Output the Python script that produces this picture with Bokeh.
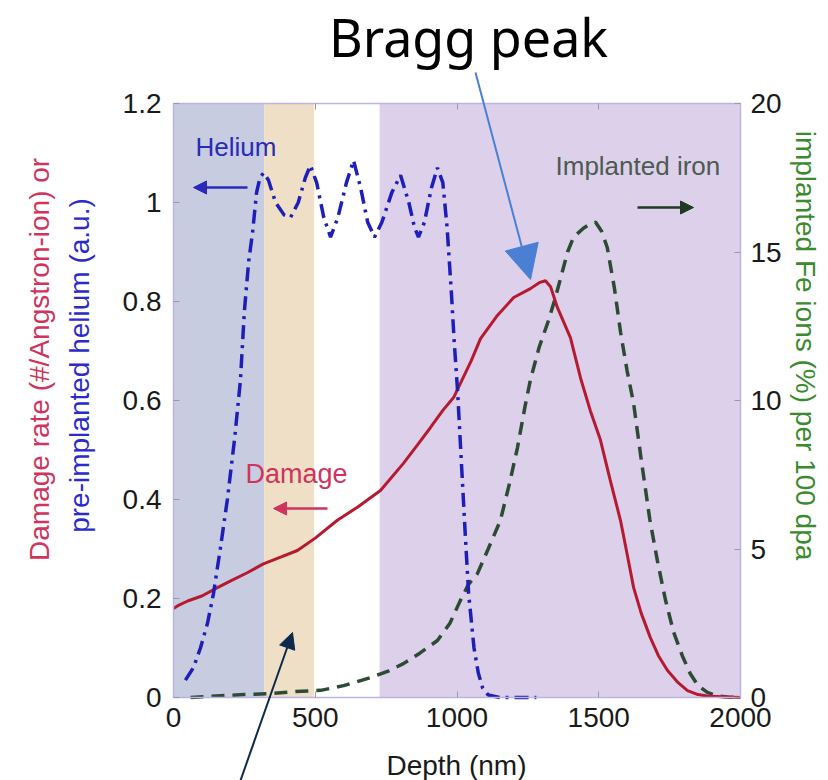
from math import pi
from bokeh.plotting import figure
from bokeh.models import Range1d, LinearAxis, FixedTicker, Label, Arrow, NormalHead
from bokeh.embed import file_html
from bokeh.resources import INLINE

# ---------------- data ----------------
band_left = [0, 320, 497, 727]
band_right = [320, 497, 727, 2000]
band_colors = ["#c8cce1", "#efdfc6", "#ffffff", "#dcd0ea"]

he_depth = [42, 70, 95, 120, 141, 165, 190, 215, 236, 250, 265, 279, 293, 305, 318,
            335, 360, 390, 413, 440, 465, 483, 505, 530, 554, 580, 610, 635, 660, 685,
            709, 735, 770, 801, 830, 850, 864, 885, 910, 931, 950, 965, 980, 990, 1002,
            1015, 1030, 1041, 1060, 1075, 1090, 1110, 1150, 1280]
helium = [0.035, 0.06, 0.10, 0.15, 0.21, 0.30, 0.40, 0.52, 0.64, 0.78, 0.88, 0.94, 1.02, 1.05, 1.06,
          1.045, 1.00, 0.975, 0.97, 1.00, 1.05, 1.075, 1.04, 0.97, 0.93, 0.97, 1.04, 1.085, 1.03, 0.96,
          0.93, 0.96, 1.02, 1.055, 1.00, 0.95, 0.93, 0.96, 1.03, 1.07, 1.04, 0.95, 0.82, 0.72, 0.62,
          0.48, 0.32, 0.21, 0.10, 0.05, 0.02, 0.005, 0.0, 0.0]

dmg_depth = [0, 14, 50, 100, 155, 200, 260, 317, 380, 437, 500, 578, 650, 730, 811,
             860, 906, 950, 988, 1050, 1083, 1140, 1200, 1259, 1290, 1312, 1330, 1354, 1400, 1436,
             1470, 1506, 1540, 1577, 1600, 1623, 1650, 1682, 1710, 1742, 1780, 1813, 1850, 1883, 1950, 2000]
damage = [0.18, 0.185, 0.195, 0.205, 0.222, 0.235, 0.252, 0.27, 0.284, 0.297, 0.322, 0.358, 0.385, 0.418, 0.473,
          0.51, 0.545, 0.58, 0.606, 0.68, 0.725, 0.77, 0.808, 0.826, 0.838, 0.842, 0.83, 0.788, 0.727, 0.645,
          0.58, 0.52, 0.44, 0.357, 0.29, 0.222, 0.17, 0.121, 0.085, 0.055, 0.03, 0.014, 0.006, 0.003, 0.001, 0.0]

fe_depth = [60, 150, 250, 342, 430, 519, 600, 695, 760, 811, 870, 931, 975, 1012, 1040,
            1072, 1110, 1153, 1185, 1213, 1240, 1259, 1290, 1323, 1345, 1365, 1390, 1411, 1446, 1470,
            1489, 1510, 1530, 1555, 1577, 1600, 1623, 1650, 1680, 1707, 1735, 1764, 1795, 1823, 1850,
            1883, 1920, 1960, 2000]
iron = [0.0, 0.05, 0.1, 0.13, 0.2, 0.24, 0.4, 0.67, 0.9, 1.14, 1.5, 1.92, 2.5, 3.27, 3.8,
        4.17, 5.0, 5.96, 7.2, 8.4, 9.8, 10.7, 11.8, 12.7, 13.4, 14.1, 15.0, 15.5, 15.8, 15.95,
        16.0, 15.7, 15.15, 13.8, 12.3, 11.0, 9.9, 8.0, 6.0, 4.6, 3.3, 2.2, 1.4, 0.8, 0.4,
        0.17, 0.05, 0.01, 0.0]

x_ticks = [0, 500, 1000, 1500, 2000]
x_labels = ["0", "500", "1000", "1500", "2000"]
left_ticks = [0, 0.2, 0.4, 0.6, 0.8, 1, 1.2]
left_labels = ["0", "0.2", "0.4", "0.6", "0.8", "1", "1.2"]
right_ticks = [0, 5, 10, 15, 20]
right_labels = ["0", "5", "10", "15", "20"]

# ---------------- layout ----------------
# The plotting area covers the whole canvas; the data box (0..2000, 0..1.2)
# sits at pixels FL..FR / FT..FB so that arrows and texts may leave it.
W, H = 828, 780
FL, FR, FT, FB = 173, 740, 103, 697
XMAX, YMAX, Y2MAX = 2000, 1.2, 20


def dx(px):
    return (px - FL) * XMAX / (FR - FL)


def dy(py):
    return (FB - py) * YMAX / (FB - FT)


p = figure(width=W, height=H, output_backend="svg", toolbar_location=None,
           x_range=Range1d(dx(0), dx(W)), y_range=Range1d(dy(H), dy(0)),
           x_axis_location=None, y_axis_location=None,
           min_border=0)
p.extra_y_ranges = {"fe": Range1d(dy(H) * Y2MAX / YMAX, dy(0) * Y2MAX / YMAX)}
p.xgrid.visible = False
p.ygrid.visible = False
p.outline_line_color = None
p.background_fill_color = "white"
p.border_fill_color = "white"

FONT = "Liberation Sans"
AX_LINE = "#bdb4e2"
TICK = "#9a9a9a"


def style_axis(ax, standoff):
    ax.axis_line_color = AX_LINE
    ax.axis_line_width = 1.5
    ax.major_tick_in = 6
    ax.major_tick_out = 0
    ax.major_tick_line_color = TICK
    ax.minor_tick_line_color = None
    ax.major_label_standoff = standoff
    ax.major_label_text_font = FONT
    ax.major_label_text_font_size = "28px"
    ax.major_label_text_color = "#1a1a1a"


left = LinearAxis(ticker=FixedTicker(ticks=left_ticks), fixed_location=0, bounds=(0, YMAX),
                  major_label_overrides=dict(zip(left_ticks, left_labels)))
style_axis(left, 12)
p.add_layout(left, "left")

right = LinearAxis(y_range_name="fe", ticker=FixedTicker(ticks=right_ticks),
                   fixed_location=XMAX, bounds=(0, Y2MAX),
                   major_label_overrides=dict(zip(right_ticks, right_labels)))
style_axis(right, 10)
p.add_layout(right, "right")

bottom = LinearAxis(ticker=FixedTicker(ticks=x_ticks), fixed_location=0, bounds=(0, XMAX),
                    major_label_overrides=dict(zip(x_ticks, x_labels)))
style_axis(bottom, 10)
p.add_layout(bottom, "below")

top = LinearAxis(ticker=FixedTicker(ticks=x_ticks), fixed_location=YMAX, bounds=(0, XMAX),
                 major_label_overrides={t: "" for t in x_ticks})
style_axis(top, 0)
p.add_layout(top, "above")

# ---------------- bands & curves ----------------
p.quad(left=band_left, right=band_right, bottom=0, top=YMAX,
       fill_color=band_colors, line_color=None, level="underlay")

p.line(fe_depth, iron, y_range_name="fe", line_color="#2d4a34", line_width=3.5,
       line_dash="13 8")
p.line(dmg_depth, damage, line_color="#b51a30", line_width=3)
p.line(he_depth, helium, line_color="#1e1eb8", line_width=3.5, line_dash="14 6 3 6")


# ---------------- texts ----------------
def add_label(text, px, py, color, size, align="left", baseline="middle", angle=0.0, font=FONT):
    p.add_layout(Label(x=dx(px), y=dy(py), text=text, text_color=color,
                       text_font=font, text_font_size=size, text_align=align,
                       text_baseline=baseline, angle=angle))


add_label("Damage rate  (#/Angstron-ion) or", 39, 355, "#d0345c", "28px", align="center", angle=pi / 2)
add_label("pre-implanted helium (a.u.)", 79, 365, "#2b2bcc", "28px", align="center", angle=pi / 2)
add_label("implanted Fe ions (%) per 100 dpa", 805, 345, "#3a8a2e", "28px", align="center", angle=-pi / 2)
add_label("Depth (nm)", 456, 765, "#1a1a1a", "28px", align="center")
add_label("Bragg peak", 468, 36, "#000000", "52px", align="center", font="Noto Sans")

add_label("Helium", 195, 146, "#2a2ab8", "26px")
add_label("Damage", 245, 473, "#d0345c", "27px")
add_label("Implanted iron", 555, 165, "#4d5a50", "26px")


# ---------------- arrows ----------------
def add_arrow(x0, y0, x1, y1, color, width, head):
    p.add_layout(Arrow(end=NormalHead(size=head, fill_color=color, line_color=color),
                       x_start=dx(x0), y_start=dy(y0), x_end=dx(x1), y_end=dy(y1),
                       line_color=color, line_width=width))


add_arrow(247, 187, 193, 187, "#2a2ab8", 2.5, 13)
add_arrow(327, 508, 273, 508, "#d0345c", 2.5, 13)
add_arrow(637, 207, 693, 207, "#1f3a22", 2.5, 13)
add_arrow(475, 72, 530, 279, "#4a7fd4", 2, 34)
add_arrow(240, 780, 292, 632, "#0e2a4a", 2, 16)

open("out.html", "w").write(file_html(p, INLINE))
